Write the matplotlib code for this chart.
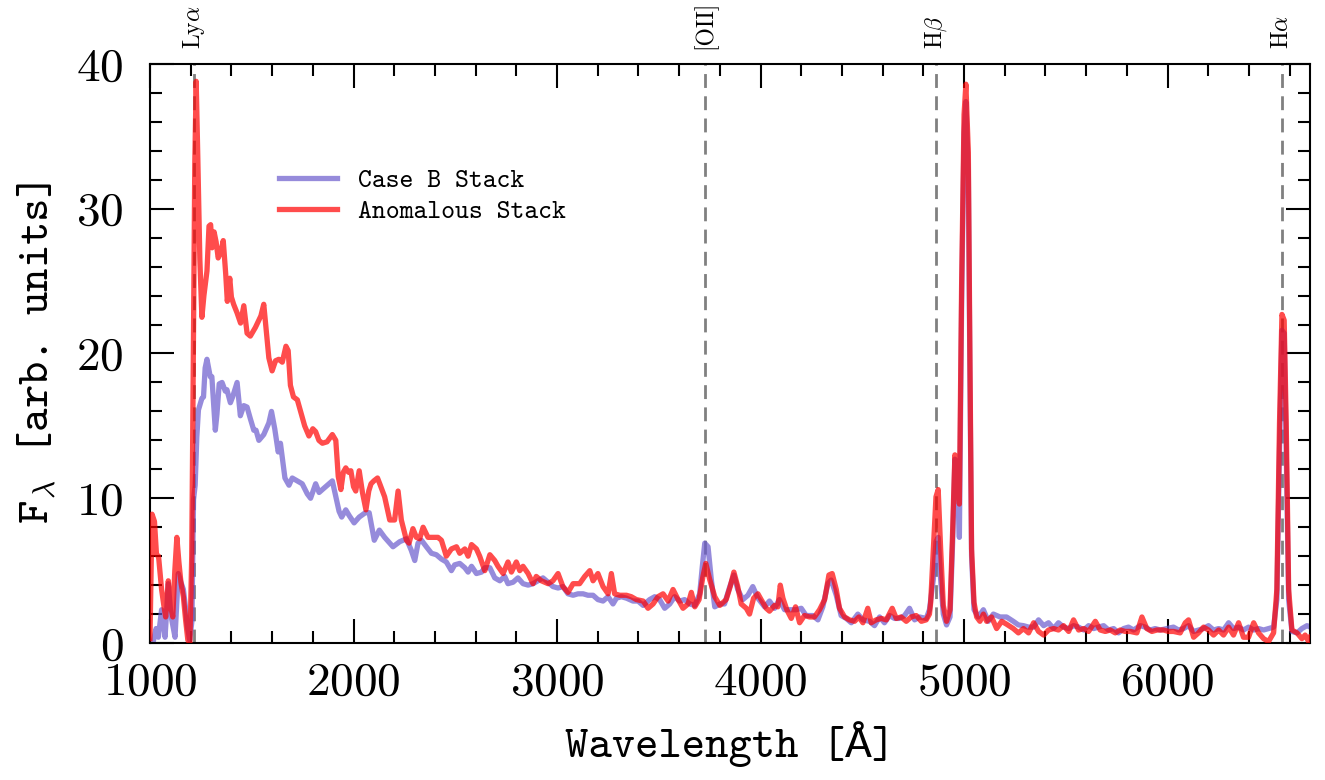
import matplotlib
matplotlib.use('Agg')
from matplotlib import pyplot as plt
from matplotlib.ticker import MultipleLocator
import matplotlib.transforms as mtransforms

plt.rcParams['font.family'] = ['cmr10', 'DejaVu Serif']
plt.rcParams['mathtext.fontset'] = 'cm'
plt.rcParams['axes.formatter.use_mathtext'] = True

# Case B stack
wl_caseb = [1000, 1016, 1030, 1041, 1057, 1066, 1074, 1090, 1100, 1107, 1123, 1139, 1152, 1164,
            1175, 1183, 1195, 1206, 1214, 1222, 1230, 1238, 1255, 1263, 1271, 1280, 1296, 1304,
            1321, 1329, 1340, 1354, 1370, 1378, 1395, 1406, 1428, 1444, 1461, 1477, 1493, 1510,
            1521, 1535, 1559, 1584, 1597, 1613, 1630, 1641, 1663, 1683, 1699, 1724, 1748, 1773,
            1789, 1814, 1831, 1847, 1880, 1896, 1929, 1942, 1962, 1979, 2003, 2028, 2058, 2077,
            2102, 2127, 2153, 2194, 2227, 2260, 2284, 2301, 2317, 2334, 2358, 2383, 2407, 2432,
            2456, 2481, 2497, 2522, 2547, 2563, 2580, 2604, 2629, 2645, 2670, 2694, 2719, 2743,
            2759, 2784, 2808, 2833, 2858, 2882, 2907, 2931, 2956, 2980, 3005, 3029, 3054, 3079,
            3103, 3128, 3152, 3177, 3201, 3226, 3251, 3275, 3292, 3316, 3341, 3373, 3398, 3423,
            3455, 3480, 3504, 3529, 3554, 3578, 3603, 3627, 3652, 3677, 3701, 3714, 3726, 3742,
            3758, 3775, 3800, 3823, 3849, 3869, 3888, 3913, 3938, 3962, 3987, 4020, 4044, 4069,
            4093, 4118, 4142, 4175, 4200, 4224, 4257, 4282, 4306, 4331, 4347, 4372, 4396, 4421,
            4446, 4478, 4503, 4536, 4560, 4585, 4609, 4634, 4658, 4683, 4708, 4732, 4757, 4781,
            4814, 4830, 4849, 4862, 4873, 4885, 4898, 4914, 4931, 4944, 4955, 4967, 4977, 4988,
            5000, 5009, 5021, 5029, 5037, 5049, 5070, 5095, 5119, 5144, 5177, 5209, 5242, 5267,
            5292, 5317, 5342, 5366, 5391, 5415, 5440, 5464, 5489, 5514, 5538, 5563, 5588, 5612,
            5637, 5661, 5686, 5710, 5735, 5759, 5784, 5808, 5833, 5866, 5890, 5915, 5939, 5964,
            5997, 6029, 6054, 6079, 6103, 6128, 6152, 6177, 6201, 6226, 6251, 6275, 6300, 6324,
            6349, 6373, 6398, 6423, 6447, 6472, 6496, 6521, 6537, 6550, 6562, 6573, 6583, 6595,
            6611, 6636, 6660, 6685, 6701]
flux_caseb = [0.0, 0.1, 1.0, 0.4, 2.3, 1.5, 0.4, 4.1, 2.4, 1.6, 0.4, 4.8, 4.2, 3.7,
              2.4, 1.2, 0.2, 1.5, 9.9, 10.9, 14.2, 16.1, 16.9, 17.0, 19.0, 19.6, 18.4, 18.4,
              14.7, 15.8, 17.9, 18.0, 17.4, 17.5, 16.6, 17.0, 18.0, 15.7, 16.4, 16.3, 15.5, 14.7,
              14.7, 14.0, 14.4, 15.2, 16.0, 14.8, 13.2, 13.8, 11.4, 10.9, 11.4, 11.2, 11.0, 10.3,
              10.0, 11.0, 10.4, 10.6, 11.0, 11.2, 9.1, 8.7, 9.2, 8.8, 8.3, 8.7, 9.0, 9.0,
              7.1, 7.8, 7.3, 6.65, 7.0, 7.2, 6.4, 5.7, 6.9, 7.1, 6.65, 6.2, 6.1, 5.8,
              5.6, 5.0, 5.4, 5.5, 5.2, 4.9, 5.3, 4.8, 4.9, 5.2, 5.2, 4.5, 4.3, 4.6,
              4.1, 4.2, 4.5, 4.1, 4.0, 4.1, 4.3, 4.5, 4.2, 3.9, 3.8, 3.9, 3.4, 3.3,
              3.4, 3.4, 3.3, 3.3, 3.0, 2.9, 3.2, 2.7, 3.1, 3.2, 3.1, 2.9, 2.9, 2.6,
              3.0, 3.2, 3.0, 2.4, 2.7, 3.2, 2.9, 3.0, 2.7, 2.6, 3.4, 5.3, 6.9, 6.65,
              4.4, 2.5, 2.7, 2.7, 3.9, 4.7, 3.7, 3.0, 3.3, 3.9, 3.1, 2.5, 2.9, 2.4,
              3.0, 2.3, 2.3, 2.3, 2.4, 1.9, 1.9, 1.6, 2.5, 4.1, 4.35, 3.3, 1.9, 1.7,
              1.4, 2.0, 1.6, 1.5, 1.2, 1.8, 1.4, 1.9, 1.7, 1.7, 1.9, 2.4, 1.6, 1.8,
              1.7, 2.3, 4.4, 7.0, 7.3, 4.4, 2.0, 1.25, 1.8, 7.0, 12.7, 11.7, 7.3, 23.4,
              35.2, 37.4, 32.6, 18.2, 6.0, 2.3, 1.8, 2.3, 1.5, 2.0, 1.8, 1.8, 1.5, 1.25,
              1.2, 1.1, 1.1, 1.6, 1.2, 1.4, 1.0, 1.4, 1.1, 1.0, 1.2, 1.1, 0.9, 1.2,
              1.0, 1.1, 1.2, 0.9, 1.0, 0.7, 1.0, 1.1, 0.9, 1.2, 1.1, 0.9, 1.0, 0.9,
              1.0, 1.1, 0.9, 1.0, 1.2, 0.8, 0.9, 1.0, 1.2, 0.9, 1.0, 0.9, 1.4, 1.0,
              1.1, 0.9, 1.1, 0.9, 1.0, 0.9, 1.0, 1.1, 3.0, 13.3, 21.6, 21.4, 13.3, 3.0,
              0.8, 0.7, 1.0, 1.2, 1.1]

# Anomalous stack
wl_anom = [1000, 1010, 1022, 1032, 1042, 1057, 1068, 1077, 1090, 1100, 1112, 1122, 1132, 1142,
           1152, 1164, 1175, 1186, 1196, 1205, 1212, 1220, 1227, 1235, 1245, 1255, 1265, 1280,
           1290, 1298, 1305, 1315, 1325, 1335, 1348, 1360, 1372, 1380, 1392, 1400, 1411, 1428,
           1445, 1461, 1477, 1493, 1518, 1545, 1559, 1572, 1584, 1600, 1617, 1633, 1650, 1668,
           1679, 1690, 1705, 1724, 1740, 1760, 1781, 1800, 1814, 1830, 1847, 1870, 1896, 1913,
           1925, 1938, 1950, 1962, 1975, 1987, 2000, 2011, 2028, 2044, 2061, 2075, 2086, 2100,
           2118, 2129, 2153, 2178, 2202, 2219, 2235, 2260, 2273, 2292, 2309, 2325, 2342, 2366,
           2391, 2415, 2432, 2456, 2481, 2506, 2522, 2547, 2563, 2580, 2604, 2620, 2645, 2670,
           2694, 2710, 2735, 2759, 2776, 2800, 2817, 2833, 2858, 2882, 2898, 2923, 2956, 2980,
           3005, 3029, 3054, 3079, 3111, 3136, 3161, 3177, 3201, 3226, 3251, 3267, 3283, 3308,
           3341, 3365, 3390, 3423, 3447, 3472, 3496, 3521, 3546, 3570, 3595, 3619, 3644, 3660,
           3677, 3698, 3717, 3731, 3750, 3775, 3800, 3831, 3851, 3869, 3888, 3905, 3930, 3946,
           3966, 3987, 4003, 4028, 4044, 4069, 4085, 4097, 4110, 4129, 4151, 4172, 4192, 4216,
           4241, 4265, 4290, 4315, 4336, 4352, 4372, 4388, 4413, 4437, 4462, 4483, 4503, 4527,
           4544, 4568, 4593, 4618, 4647, 4667, 4691, 4716, 4740, 4765, 4790, 4814, 4830, 4836,
           4849, 4862, 4873, 4885, 4898, 4914, 4931, 4944, 4955, 4967, 4977, 4988, 5000, 5009,
           5021, 5029, 5037, 5049, 5062, 5078, 5095, 5111, 5135, 5160, 5185, 5209, 5242, 5267,
           5292, 5317, 5342, 5366, 5391, 5415, 5440, 5464, 5489, 5514, 5538, 5563, 5588, 5612,
           5645, 5669, 5694, 5718, 5743, 5767, 5792, 5817, 5849, 5874, 5898, 5923, 5948, 5980,
           6005, 6029, 6062, 6087, 6103, 6128, 6152, 6177, 6201, 6226, 6251, 6275, 6300, 6324,
           6349, 6373, 6398, 6423, 6447, 6472, 6496, 6521, 6537, 6550, 6562, 6573, 6583, 6595,
           6611, 6636, 6660, 6676, 6693, 6701]
flux_anom = [0.3, 8.9, 8.4, 6.1, 6.0, 3.7, 2.6, 1.8, 4.3, 2.6, 1.8, 5.0, 7.3, 5.6,
             4.2, 3.2, 1.6, 0.2, 0.0, 6.0, 18.0, 33.0, 38.8, 33.5, 26.5, 22.5, 24.0, 25.7,
             28.8, 28.9, 27.3, 28.4, 27.7, 26.6, 27.0, 27.8, 25.5, 23.6, 25.2, 23.9, 23.4, 22.8,
             22.1, 23.3, 21.4, 21.2, 21.8, 22.6, 23.4, 21.5, 19.7, 18.8, 19.5, 19.6, 19.4, 20.5,
             20.2, 17.8, 17.0, 16.8, 16.0, 15.0, 14.3, 14.8, 14.6, 14.0, 13.8, 13.9, 14.4, 14.0,
             11.5, 10.6, 11.8, 12.1, 11.8, 11.9, 10.8, 10.5, 11.9, 10.4, 9.2, 10.5, 11.0, 11.2,
             11.4, 11.0, 10.1, 8.5, 8.5, 10.5, 8.5, 7.1, 6.9, 7.9, 7.3, 7.2, 8.0, 7.3,
             7.3, 7.3, 7.1, 6.0, 6.5, 6.65, 6.2, 6.5, 6.0, 6.8, 6.5, 6.0, 5.0, 6.1,
             5.7, 5.3, 4.8, 5.6, 4.9, 5.6, 5.0, 5.3, 4.8, 4.1, 4.6, 4.3, 4.1, 4.3,
             4.8, 3.9, 3.5, 4.1, 4.1, 4.6, 5.0, 4.3, 4.8, 3.9, 3.4, 4.8, 3.4, 3.3,
             3.3, 3.2, 3.0, 2.9, 2.4, 2.7, 3.2, 3.4, 2.9, 3.7, 3.0, 2.4, 2.7, 3.5,
             2.5, 3.0, 4.6, 5.5, 4.4, 3.2, 2.6, 3.0, 3.9, 4.9, 3.9, 2.7, 2.4, 2.0,
             3.1, 3.4, 3.0, 2.4, 2.2, 2.6, 2.5, 4.0, 3.1, 2.3, 1.7, 2.5, 1.4, 1.9,
             1.8, 1.8, 2.3, 3.0, 4.7, 4.8, 3.7, 2.4, 1.8, 1.6, 1.5, 1.8, 1.4, 2.4,
             1.4, 1.6, 1.7, 1.6, 2.4, 1.7, 1.8, 1.5, 1.8, 1.9, 1.5, 1.6, 2.0, 2.8,
             6.5, 10.1, 10.6, 6.5, 2.6, 1.5, 2.3, 7.8, 13.0, 12.0, 9.6, 24.7, 36.5, 38.6,
             33.9, 19.5, 6.5, 2.8, 1.8, 1.5, 2.0, 1.5, 1.8, 1.0, 1.5, 1.3, 1.0, 0.7,
             1.0, 0.7, 1.4, 0.8, 0.55, 0.9, 1.0, 0.9, 1.2, 0.8, 1.6, 0.9, 1.0, 0.8,
             1.5, 0.9, 0.8, 0.9, 0.7, 0.9, 0.8, 0.8, 0.7, 1.8, 1.0, 0.8, 0.9, 0.9,
             0.8, 0.8, 0.7, 1.4, 1.6, 0.4, 0.7, 1.1, 0.9, 0.55, 0.9, 0.55, 1.1, 0.55,
             1.4, 0.4, 0.4, 1.4, 0.7, 0.3, 0.1, 0.7, 3.7, 15.2, 22.7, 22.3, 15.2, 3.7,
             0.9, 0.7, 0.3, 0.55, 0.1, 0.4]

line_names = [r'Ly$\alpha$', '[OII]', r'H$\beta$', r'H$\alpha$']
line_waves = [1216, 3727, 4861, 6563]

tt = ['cmtt10', 'Liberation Mono']

fig = plt.figure(figsize=(13.25, 7.8), dpi=100)
ax = fig.add_axes([0.1132, 0.1756, 0.8755, 0.7424])

for w in line_waves:
    ax.axvline(w, color='gray', lw=2, ls=(0, (5, 3)), zorder=1)

ax.plot(wl_caseb, flux_caseb, color='slateblue', alpha=0.7, lw=3.8, label='Case B Stack', zorder=2)
ax.plot(wl_anom, flux_anom, color='red', alpha=0.7, lw=3.8, label='Anomalous Stack', zorder=3)

trans = mtransforms.blended_transform_factory(ax.transData, ax.transAxes)
for name, w in zip(line_names, line_waves):
    ax.text(w, 1.025, name, transform=trans, rotation=90, ha='center', va='bottom', fontsize=17)

ax.set_xlim(1000, 6700)
ax.set_ylim(0, 40)
ax.xaxis.set_major_locator(MultipleLocator(1000))
ax.xaxis.set_minor_locator(MultipleLocator(200))
ax.yaxis.set_major_locator(MultipleLocator(10))
ax.yaxis.set_minor_locator(MultipleLocator(2))
ax.tick_params(which='both', direction='in', top=True, right=True, width=1.5, labelsize=34)
ax.tick_params(which='major', length=17)
ax.tick_params(which='minor', length=8.5)
ax.tick_params(axis='x', which='major', pad=14)
ax.tick_params(axis='y', which='major', pad=19)
for s in ax.spines.values():
    s.set_linewidth(1.5)

ax.set_xlabel('Wavelength [Å]', fontsize=32, family=tt, labelpad=12)
ax.set_ylabel(r'F$_\lambda$ [arb. units]', fontsize=32, family=tt, labelpad=13)

ax.legend(loc='upper left', bbox_to_anchor=(0.091, 0.86), frameon=False,
          prop={'family': tt, 'size': 19}, handlelength=2.2, labelspacing=0.25)

fig.savefig('out.png', dpi=100)
